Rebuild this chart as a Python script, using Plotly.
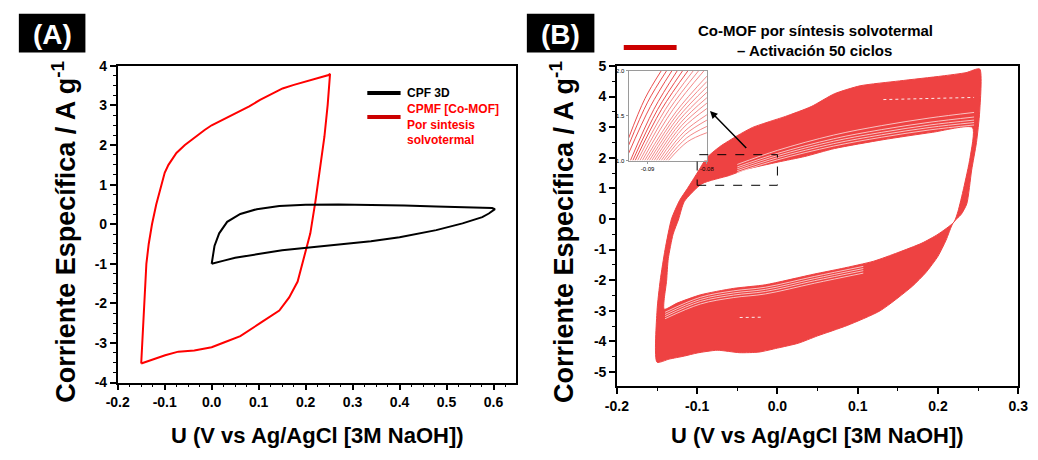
import plotly.graph_objects as go

# ---------------- Panel A data ----------------
cpmf_x = [-0.150, -0.148, -0.144, -0.139, -0.134, -0.127, -0.118, -0.107, -0.100, -0.092, -0.075,
          -0.057, -0.036, -0.015, 0.000, 0.025, 0.054, 0.080, 0.103, 0.130, 0.151, 0.175, 0.200,
          0.225, 0.249, 0.252,
          0.247, 0.240, 0.231, 0.221, 0.210, 0.196, 0.183, 0.165, 0.144, 0.103, 0.061, 0.026,
          0.000, -0.037, -0.071, -0.099, -0.127, -0.150]
cpmf_y = [-3.52, -3.00, -2.00, -1.00, -0.50, 0.00, 0.50, 1.00, 1.30, 1.50, 1.80,
          2.00, 2.20, 2.38, 2.50, 2.65, 2.82, 2.98, 3.14, 3.30, 3.43, 3.52, 3.60,
          3.68, 3.77, 3.80,
          3.02, 2.21, 1.40, 0.59, -0.23, -0.88, -1.45, -1.85, -2.18, -2.50, -2.83, -2.99,
          -3.11, -3.19, -3.22, -3.31, -3.43, -3.52]

cpf_x = [0.000, 0.002, 0.006, 0.016, 0.033, 0.061, 0.096, 0.144, 0.200, 0.270, 0.339, 0.410,
         0.478, 0.540, 0.597, 0.603, 0.590, 0.576, 0.534, 0.478, 0.400, 0.339, 0.270, 0.200,
         0.150, 0.096, 0.050, 0.026, 0.000]
cpf_y = [-1.00, -0.80, -0.55, -0.23, 0.06, 0.26, 0.38, 0.46, 0.49, 0.50, 0.49, 0.47,
         0.45, 0.43, 0.41, 0.38, 0.27, 0.18, 0.02, -0.15, -0.33, -0.43, -0.51, -0.59,
         -0.66, -0.76, -0.85, -0.92, -1.00]

# ---------------- Panel B data ----------------
outer_x = [-0.150, -0.150, -0.146, -0.140, -0.132, -0.122, -0.112, -0.100, -0.088, -0.072, -0.050,
           -0.031, -0.010, 0.010, 0.042, 0.071, 0.103, 0.152, 0.205, 0.235, 0.252,
           0.252, 0.248, 0.242, 0.236, 0.229, 0.219, 0.210, 0.200, 0.185, 0.168, 0.128, 0.087,
           0.050, 0.026, 0.000, -0.023, -0.047, -0.075, -0.100, -0.116, -0.135, -0.150]
outer_y = [-4.68, -3.00, -2.00, -1.00, 0.00, 0.60, 1.00, 1.50, 2.00, 2.36, 2.72,
           2.99, 3.18, 3.35, 3.67, 4.09, 4.35, 4.51, 4.67, 4.78, 4.90,
           3.50, 2.50, 1.60, 0.50, 0.15, -0.12, -0.70, -1.22, -1.75, -2.20, -3.00, -3.48,
           -3.82, -4.06, -4.22, -4.35, -4.37, -4.29, -4.38, -4.48, -4.58, -4.68]

inner_x = [-0.141, -0.138, -0.136, -0.130, -0.123, -0.116, -0.094, -0.060, -0.039, 0.001, 0.034,
           0.071, 0.132, 0.193, 0.243, 0.240, 0.232, 0.225, 0.220, 0.200, 0.180, 0.150, 0.120,
           0.080, 0.046, -0.015, -0.055, -0.096, -0.125, -0.141]
inner_y = [-2.95, -2.00, -1.30, -0.50, 0.00, 0.57, 1.15, 1.42, 1.62, 1.86, 2.04,
           2.30, 2.59, 2.83, 2.99, 2.00, 1.00, 0.25, -0.10, -0.50, -0.79, -1.10, -1.38,
           -1.62, -1.80, -2.15, -2.27, -2.48, -2.75, -2.95]

# thin gaps between the innermost cycles (upper branch)
gap_up_x = [-0.05, 0.0, 0.07, 0.13, 0.19, 0.245]
gap_up_y = [[1.52, 1.93, 2.38, 2.67, 2.91, 3.07],
            [1.58, 2.00, 2.46, 2.75, 2.99, 3.15],
            [1.64, 2.07, 2.54, 2.83, 3.07, 3.23],
            [1.70, 2.14, 2.62, 2.92, 3.16, 3.33],
            [1.78, 2.24, 2.74, 3.05, 3.30, 3.48]]
# thin gaps between the innermost cycles (lower branch)
gap_lo_x = [-0.14, -0.096, -0.055, -0.015, 0.046, 0.107]
gap_lo_y = [[-3.05, -2.56, -2.35, -2.23, -1.88, -1.55],
            [-3.12, -2.63, -2.42, -2.30, -1.95, -1.62],
            [-3.19, -2.70, -2.49, -2.37, -2.02, -1.69],
            [-3.26, -2.78, -2.57, -2.45, -2.10, -1.77]]
# broken (dotted) white streaks inside the band
streak_x = [[0.132, 0.245], [-0.047, -0.018]]
streak_y = [[3.90, 3.97], [-3.22, -3.21]]

# inset (zoom on the dashed window)
inset_x = [[-0.0932, -0.09045, -0.0877], [-0.0932, -0.0900, -0.0868], [-0.0932, -0.08955, -0.0859],
           [-0.0929, -0.08895, -0.0850], [-0.0925, -0.0883, -0.0841], [-0.0921, -0.08765, -0.0832],
           [-0.0917, -0.0870, -0.0823], [-0.0913, -0.08635, -0.0814], [-0.0909, -0.0857, -0.0805],
           [-0.0905, -0.08525, -0.0800], [-0.0901, -0.08505, -0.0800], [-0.0897, -0.08485, -0.0800],
           [-0.0893, -0.08465, -0.0800], [-0.0889, -0.08445, -0.0800], [-0.0885, -0.08425, -0.0800],
           [-0.0881, -0.08405, -0.0800], [-0.0877, -0.08385, -0.0800], [-0.0873, -0.08365, -0.0800],
           [-0.0869, -0.08345, -0.0800], [-0.0865, -0.08325, -0.0800]]
inset_y = [[1.25, 1.69, 2.00], [1.17, 1.65, 2.00], [1.08, 1.60, 2.00],
           [1.00, 1.57, 2.00], [1.00, 1.57, 2.00], [1.00, 1.57, 2.00],
           [1.00, 1.57, 2.00], [1.00, 1.57, 2.00], [1.00, 1.57, 2.00],
           [1.00, 1.54, 1.94], [1.00, 1.51, 1.88], [1.00, 1.48, 1.82],
           [1.00, 1.45, 1.76], [1.00, 1.42, 1.70], [1.00, 1.39, 1.64],
           [1.00, 1.36, 1.58], [1.00, 1.32, 1.51], [1.00, 1.29, 1.45],
           [1.00, 1.25, 1.38], [1.00, 1.21, 1.31]]

# tick labels
xa_ticks = [-0.2, -0.1, 0.0, 0.1, 0.2, 0.3, 0.4, 0.5, 0.6]
xa_text = ["-0.2", "-0.1", "0.0", "0.1", "0.2", "0.3", "0.4", "0.5", "0.6"]
ya_ticks = [-4, -3, -2, -1, 0, 1, 2, 3, 4]
ya_text = ["-4", "-3", "-2", "-1", "0", "1", "2", "3", "4"]
xb_ticks = [-0.2, -0.1, 0.0, 0.1, 0.2, 0.3]
xb_text = ["-0.2", "-0.1", "0.0", "0.1", "0.2", "0.3"]
yb_ticks = [-5, -4, -3, -2, -1, 0, 1, 2, 3, 4, 5]
yb_text = ["-5", "-4", "-3", "-2", "-1", "0", "1", "2", "3", "4", "5"]

W, H = 1038, 460
FONT = "Liberation Sans, Arial, sans-serif"
RED_B = "#EE4242"


def px(v):
    return v / W


def py(v):
    return 1 - v / H


fig = go.Figure()

# Panel A
fig.add_trace(go.Scatter(x=cpmf_x, y=cpmf_y, mode="lines", line=dict(color="#FF0000", width=2),
                         xaxis="x", yaxis="y", showlegend=False))
fig.add_trace(go.Scatter(x=cpf_x, y=cpf_y, mode="lines", line=dict(color="black", width=2),
                         xaxis="x", yaxis="y", showlegend=False))

# Panel B
fig.add_trace(go.Scatter(x=outer_x, y=outer_y, mode="lines", fill="toself", fillcolor=RED_B,
                         line=dict(color=RED_B, width=1, shape="spline", smoothing=0.6),
                         xaxis="x2", yaxis="y2", showlegend=False))
fig.add_trace(go.Scatter(x=inner_x, y=inner_y, mode="lines", fill="toself", fillcolor="white",
                         line=dict(color=RED_B, width=1, shape="spline", smoothing=0.6),
                         xaxis="x2", yaxis="y2", showlegend=False))
for gy in gap_up_y:
    fig.add_trace(go.Scatter(x=gap_up_x, y=gy, mode="lines",
                             line=dict(color="white", width=0.8, shape="spline"),
                             opacity=0.85, xaxis="x2", yaxis="y2", showlegend=False))
for gy in gap_lo_y:
    fig.add_trace(go.Scatter(x=gap_lo_x, y=gy, mode="lines",
                             line=dict(color="white", width=0.8, shape="spline"),
                             opacity=0.85, xaxis="x2", yaxis="y2", showlegend=False))
for sx, sy in zip(streak_x, streak_y):
    fig.add_trace(go.Scatter(x=sx, y=sy, mode="lines",
                             line=dict(color="white", width=1, dash="dot"),
                             opacity=0.9, xaxis="x2", yaxis="y2", showlegend=False))

# Inset
for i, (ix, iy) in enumerate(zip(inset_x, inset_y)):
    col = "#E83A3A" if i < 6 else "#F27C7C"
    fig.add_trace(go.Scatter(x=ix, y=iy, mode="lines", line=dict(color=col, width=0.9, shape="spline"),
                             xaxis="x3", yaxis="y3", showlegend=False))

tickfont = dict(family=FONT, size=14, color="black", weight="bold")
common = dict(showline=True, linecolor="black", linewidth=1.5, mirror=True, showgrid=False,
              zeroline=False, ticks="outside", ticklen=6, tickwidth=1.5, tickcolor="black",
              tickfont=tickfont, tickmode="array")

fig.update_layout(
    width=W, height=H, autosize=False, margin=dict(l=0, r=0, t=0, b=0),
    paper_bgcolor="white", plot_bgcolor="white",
    xaxis=dict(domain=[px(108), px(515)], anchor="y", range=[-0.2, 0.648],
               tickvals=xa_ticks, ticktext=xa_text,
               minor=dict(ticks="outside", ticklen=3, dtick=0.025, tick0=0, tickcolor="black",
                          tickwidth=1.2, showgrid=False), **common),
    yaxis=dict(domain=[py(388), py(60)], anchor="x", range=[-4, 4],
               tickvals=ya_ticks, ticktext=ya_text,
               minor=dict(ticks="outside", ticklen=3, dtick=0.25, tick0=0, tickcolor="black",
                          tickwidth=1.2, showgrid=False), **common),
    xaxis2=dict(domain=[px(618), px(1028)], anchor="y2", range=[-0.2, 0.3],
                tickvals=xb_ticks, ticktext=xb_text,
                minor=dict(ticks="outside", ticklen=3, dtick=0.05, tick0=0, tickcolor="black",
                           tickwidth=1.2, showgrid=False), **common),
    yaxis2=dict(domain=[py(392), py(60)], anchor="x2", range=[-5.47, 5],
                tickvals=yb_ticks, ticktext=yb_text,
                minor=dict(ticks="outside", ticklen=3, dtick=0.5, tick0=0, tickcolor="black",
                           tickwidth=1.2, showgrid=False), **common),
    xaxis3=dict(domain=[px(630), px(710)], anchor="y3", range=[-0.0932, -0.0800],
                tickvals=[-0.09, -0.08], ticktext=["-0.09", "-0.08"],
                showline=True, linecolor="#9A9A9A", linewidth=1, mirror=True, showgrid=False,
                zeroline=False, ticks="outside", ticklen=2, tickcolor="#9A9A9A",
                tickfont=dict(family=FONT, size=6, color="black")),
    yaxis3=dict(domain=[py(158), py(65)], anchor="x3", range=[1.0, 2.0],
                tickvals=[1.0, 1.5, 2.0], ticktext=["1.0", "1.5", "2.0"],
                showline=True, linecolor="#9A9A9A", linewidth=1, mirror=True, showgrid=False,
                zeroline=False, ticks="outside", ticklen=2, tickcolor="#9A9A9A",
                tickfont=dict(family=FONT, size=6, color="black")),
)

shapes = [
    # panel labels
    dict(type="rect", xref="paper", yref="paper", x0=px(7), x1=px(75), y0=py(46), y1=py(6),
         fillcolor="black", line=dict(width=0)),
    dict(type="rect", xref="paper", yref="paper", x0=px(526), x1=px(595), y0=py(46), y1=py(6),
         fillcolor="black", line=dict(width=0)),
    # legend A
    dict(type="line", xref="paper", yref="paper", x0=px(363), x1=px(397), y0=py(88), y1=py(88),
         line=dict(color="black", width=4)),
    dict(type="line", xref="paper", yref="paper", x0=px(363), x1=px(397), y0=py(113), y1=py(113),
         line=dict(color="#CC0000", width=4)),
    # legend B
    dict(type="line", xref="paper", yref="paper", x0=px(625), x1=px(679), y0=py(41), y1=py(41),
         line=dict(color="#CC0000", width=5)),
    # dashed zoom window
    dict(type="rect", xref="x2", yref="y2", x0=-0.1, x1=0.0, y0=1.1, y1=2.1,
         line=dict(color="black", width=1, dash="dash")),
]


def ann(text, x, y, size, color="black", angle=0, xanchor="center", align="center"):
    return dict(text=text, xref="paper", yref="paper", x=px(x), y=py(y), showarrow=False,
                xanchor=xanchor, yanchor="middle", textangle=angle, align=align,
                font=dict(family=FONT, size=size, color=color, weight="bold"))


annotations = [
    ann("(A)", 41, 27, 28, "white"),
    ann("(B)", 560, 27, 28, "white"),
    ann("Corriente Específica / A g<sup>-1</sup>", 53, 232, 27, angle=-90),
    ann("Corriente Específica / A g<sup>-1</sup>", 562, 232, 27, angle=-90),
    ann("U (V vs Ag/AgCl [3M NaOH])", 312, 443, 22),
    ann("U (V vs Ag/AgCl [3M NaOH])", 823, 443, 22),
    ann("CPF 3D", 401, 88, 12, xanchor="left"),
    ann("CPMF [Co-MOF]<br>Por sintesis<br>solvotermal", 401, 121, 12, "#FF0000",
        xanchor="left", align="left"),
    ann("Co-MOF por síntesis solvotermal", 821, 23, 15),
    ann("– Activación 50 ciclos", 820, 44, 15),
    dict(text="", xref="x2", yref="y2", x=-0.084, y=3.53, ax=-0.037, ay=2.27,
         axref="x2", ayref="y2", showarrow=True, arrowhead=2, arrowsize=1, arrowwidth=1.5,
         arrowcolor="black"),
]

fig.update_layout(shapes=shapes, annotations=annotations)
fig.write_html("out.html",
               post_script="document.body.style.margin='0';document.body.style.overflow='hidden';")
